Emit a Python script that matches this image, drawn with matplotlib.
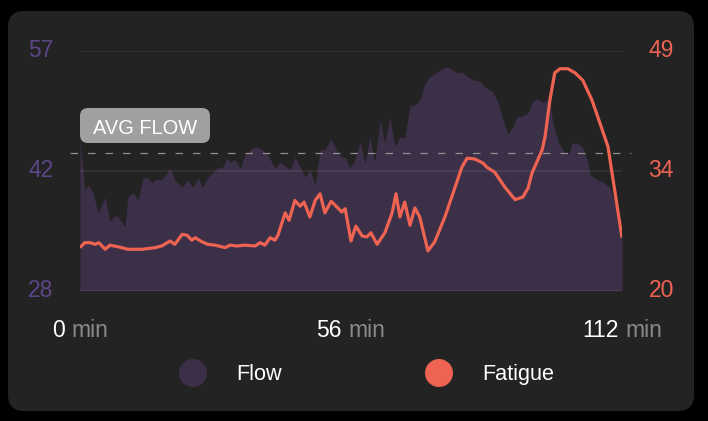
import numpy as np
import matplotlib.pyplot as plt
from matplotlib.patches import FancyBboxPatch, Circle
from matplotlib.transforms import IdentityTransform
from matplotlib.offsetbox import TextArea, HPacker, AnnotationBbox

plt.rcParams['font.family'] = ['Liberation Sans', 'DejaVu Sans']

# session data (minutes)
flow_t = [0, 1.0, 1.7, 2.7, 3.7, 5.2, 6.2, 7.2, 7.9, 9.3, 9.9, 11.0, 12.0, 13.0, 13.8,
          14.9, 15.5, 16.9, 18.6, 19.6, 21.1, 22.3, 23.3, 24.4, 25.4, 26.4, 27.3, 28.5,
          29.3, 30.4, 31.0, 32.0, 33.1, 34.1, 35.5, 36.6, 37.6, 38.8, 40.3, 41.3, 42.8,
          43.4, 44.4, 45.5, 46.5, 47.5, 48.6, 49.6, 50.6, 51.9, 53.1, 54.1, 54.8, 55.8,
          56.8, 57.9, 58.9, 59.9, 60.9, 62.0, 63.0, 64.0, 65.1, 66.1, 67.1, 68.2, 69.2,
          70.2, 71.3, 72.3, 73.3, 74.8, 75.8, 76.9, 77.9, 78.9, 80.0, 81.0, 82.6, 83.7,
          85.3, 86.4, 87.4, 88.4, 89.5, 90.3, 91.5, 92.6, 93.4, 94.4, 95.7, 96.5, 97.1,
          97.7, 98.8, 100.2, 101.0, 101.7, 102.7, 103.7, 104.8, 105.4, 106.8, 108.1,
          109.5, 110.5, 112]
flow_v = [46.2, 40.2, 40.8, 39.8, 37.4, 39.3, 36.3, 37.1, 36.9, 35.7, 39.3, 39.8, 38.9,
          41.6, 41.7, 41.0, 41.4, 41.4, 42.8, 41.4, 40.5, 41.4, 40.5, 41.6, 40.5, 41.7,
          42.2, 42.9, 42.8, 44.0, 43.5, 43.8, 42.8, 44.4, 45.2, 45.4, 45.0, 44.4, 42.8,
          43.5, 42.9, 42.6, 44.1, 42.9, 41.7, 42.6, 40.8, 45.0, 45.0, 46.3, 44.8, 44.1,
          44.1, 42.8, 43.8, 46.0, 43.4, 46.6, 43.5, 48.6, 45.8, 48.9, 45.4, 46.6, 46.4,
          50.3, 50.4, 51.0, 53.0, 53.9, 54.2, 54.8, 55.0, 54.7, 54.3, 54.4, 53.9, 53.5,
          53.3, 52.6, 52.0, 50.7, 48.6, 46.9, 47.8, 49.0, 49.1, 49.5, 50.7, 51.2, 50.7,
          51.0, 50.7, 48.3, 46.0, 44.6, 44.6, 45.8, 45.8, 45.4, 43.8, 42.0, 41.4, 41.1,
          40.5, 38.6, 35.0]

fat_t = [0, 1.0, 2.1, 3.1, 3.9, 5.2, 6.2, 7.9, 9.9, 12.8, 15.5, 16.9, 18.6, 19.6, 21.1,
         22.1, 23.1, 23.8, 25.2, 26.4, 27.9, 30.0, 31.0, 32.4, 34.1, 36.2, 37.2, 38.2,
         39.3, 40.3, 40.9, 42.4, 43.2, 44.4, 45.5, 46.3, 47.5, 48.6, 49.6, 50.6, 51.9,
         53.1, 54.1, 54.8, 56.0, 57.0, 58.3, 59.3, 60.1, 61.4, 63.0, 64.5, 65.3, 66.1,
         67.1, 68.2, 69.2, 70.2, 71.9, 73.3, 75.4, 77.1, 78.9, 80.0, 81.6, 83.3, 84.1,
         85.7, 87.8, 89.9, 91.5, 92.6, 93.4, 95.5, 96.1, 97.1, 98.1, 99.2, 100.8, 102.3,
         103.9, 105.8, 107.4, 109.1, 112]
fat_v = [25.2, 25.8, 25.8, 25.6, 25.8, 25.0, 25.5, 25.3, 25.0, 25.0, 25.2, 25.4, 26.0,
         25.6, 26.8, 26.7, 26.1, 26.4, 25.9, 25.6, 25.5, 25.2, 25.5, 25.4, 25.5, 25.4,
         25.8, 25.5, 26.4, 26.1, 26.7, 29.4, 28.5, 30.9, 30.2, 30.7, 28.9, 30.9, 31.7,
         29.4, 30.8, 30.1, 29.5, 29.9, 26.0, 27.8, 26.6, 26.5, 27.0, 25.6, 27.0, 29.4,
         31.7, 28.9, 30.7, 27.9, 30.0, 28.9, 24.8, 25.9, 28.9, 31.8, 34.9, 36.0, 35.9,
         35.4, 34.9, 34.3, 32.5, 31.0, 31.3, 32.4, 34.2, 37.0, 38.6, 43.0, 46.3, 46.8,
         46.8, 46.3, 45.4, 43.0, 40.3, 37.4, 26.4]

avg_flow = 44.6
x_ticks = [0, 56, 112]
flow_ticks = [28, 42.5, 57]
flow_labels = ['28', '42', '57']
fat_ticks = [20, 34.5, 49]
fat_labels = ['20', '34', '49']

FLOW_C = '#3c2f48'
FAT_C = '#ee6352'
FLOW_TXT = '#5b4687'

W, H = 708, 421
fig = plt.figure(figsize=(W / 100, H / 100), dpi=100, facecolor='black')
pix = IdentityTransform()

# card background
card = FancyBboxPatch((8, H - 411), 686, 400, boxstyle='round,pad=0,rounding_size=16',
                      transform=pix, facecolor='#232323', edgecolor='none', zorder=-10)
fig.add_artist(card)

ax = fig.add_axes([80 / W, (H - 290.7) / H, 542 / W, 240.2 / H])
ax.set_facecolor('none')
ax.fill_between(flow_t, 28, flow_v, color=FLOW_C, lw=0, zorder=1)
ax.set_xlim(0, 112)
ax.set_ylim(28, 57)
for s in ax.spines.values():
    s.set_visible(False)
ax.set_xticks([])
ax.set_yticks(flow_ticks, flow_labels)
ax.tick_params(axis='y', length=0, pad=19, labelsize=16.5, labelcolor=FLOW_TXT)
for lbl in ax.get_yticklabels():
    lbl.set_verticalalignment('center')
for y in flow_ticks:
    ax.axhline(y, color='white', alpha=0.07, lw=1.4, zorder=2)
ax.plot([-2.1, 113.8], [avg_flow, avg_flow], color='#8f8f8f', lw=0.9,
        ls=(0, (6, 8)), clip_on=False, zorder=3)

ax2 = ax.twinx()
ax2.set_ylim(20, 49)
for s in ax2.spines.values():
    s.set_visible(False)
ax2.plot(fat_t, fat_v, color=FAT_C, lw=2.3, solid_joinstyle='round', solid_capstyle='butt')
ax2.set_yticks(fat_ticks, fat_labels)
ax2.tick_params(axis='y', length=0, pad=19, labelsize=16.5, labelcolor=FAT_C)
for lbl in ax2.get_yticklabels():
    lbl.set_verticalalignment('center')

# x labels: white number + grey unit
for t in x_ticks:
    box = HPacker(children=[TextArea(str(t), textprops=dict(color='white', size=16.5)),
                            TextArea('min', textprops=dict(color='#8a8a8a', size=16.5))],
                  align='baseline', pad=0, sep=5)
    ab = AnnotationBbox(box, (t, 0), xycoords=ax.get_xaxis_transform(),
                        xybox=(0, -29), boxcoords='offset points',
                        box_alignment=(0.5, 0.5), frameon=False, pad=0,
                        annotation_clip=False)
    ax.add_artist(ab)

# AVG FLOW tag
tag = FancyBboxPatch((80, H - 143), 130, 35, boxstyle='round,pad=0,rounding_size=8',
                     transform=pix, facecolor='#a0a0a0', edgecolor='none', zorder=5)
fig.add_artist(tag)
fig.text(145, H - 133.5, 'AVG FLOW', transform=pix, color='white', fontsize=14.4,
         ha='center', va='baseline', zorder=6)

# legend
for cx, col, label in [(193, FLOW_C, 'Flow'), (439, FAT_C, 'Fatigue')]:
    fig.add_artist(Circle((cx, H - 373), 14, transform=pix, facecolor=col,
                          edgecolor='none'))
    fig.text(cx + 43, H - 380, label, transform=pix, color='white', fontsize=15.6,
             ha='left', va='baseline')

fig.savefig('out.png', dpi=100, facecolor='black')
